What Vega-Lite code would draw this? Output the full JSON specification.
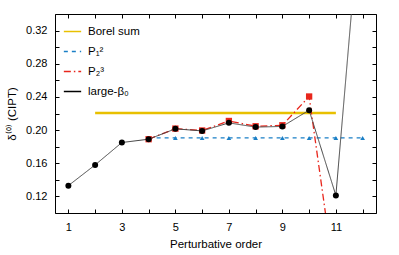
{
  "$schema": "https://vega.github.io/schema/vega-lite/v6.json",
  "width": 321,
  "height": 199,
  "autosize": {"type": "none"},
  "padding": {"left": 55, "top": 14, "right": 23, "bottom": 42},
  "config": {
    "view": {"stroke": "#000000", "strokeWidth": 1},
    "font": "Liberation Sans",
    "axis": {
      "grid": false,
      "domain": false,
      "domainColor": "#000000",
      "tickColor": "#000000",
      "labelColor": "#000000",
      "titleColor": "#000000",
      "labelFont": "Liberation Sans",
      "titleFont": "Liberation Sans",
      "labelFontSize": 11,
      "titleFontSize": 11.5,
      "titleFontWeight": "normal",
      "tickSize": 4,
      "offset": -4
    },
    "legend": {
      "labelFont": "Liberation Sans",
      "labelFontSize": 11.5,
      "labelColor": "#000000"
    }
  },
  "data": {
    "values": [
      {"series": "Borel sum", "x": 2, "y": 0.2205},
      {"series": "Borel sum", "x": 11, "y": 0.2205},
      {"series": "P₁²", "x": 4, "y": 0.1905},
      {"series": "P₁²", "x": 5, "y": 0.1905},
      {"series": "P₁²", "x": 6, "y": 0.1905},
      {"series": "P₁²", "x": 7, "y": 0.1905},
      {"series": "P₁²", "x": 8, "y": 0.1905},
      {"series": "P₁²", "x": 9, "y": 0.1905},
      {"series": "P₁²", "x": 10, "y": 0.1905},
      {"series": "P₁²", "x": 11, "y": 0.1905},
      {"series": "P₁²", "x": 12, "y": 0.1905},
      {"series": "P₂³", "x": 4, "y": 0.189},
      {"series": "P₂³", "x": 5, "y": 0.2018},
      {"series": "P₂³", "x": 6, "y": 0.1995},
      {"series": "P₂³", "x": 7, "y": 0.211},
      {"series": "P₂³", "x": 8, "y": 0.2046},
      {"series": "P₂³", "x": 9, "y": 0.2058},
      {"series": "P₂³", "x": 10, "y": 0.2405},
      {"series": "P₂³", "x": 11, "y": 0.01},
      {"series": "large-β₀", "x": 1, "y": 0.133},
      {"series": "large-β₀", "x": 2, "y": 0.158},
      {"series": "large-β₀", "x": 3, "y": 0.185},
      {"series": "large-β₀", "x": 4, "y": 0.189},
      {"series": "large-β₀", "x": 5, "y": 0.2015},
      {"series": "large-β₀", "x": 6, "y": 0.199},
      {"series": "large-β₀", "x": 7, "y": 0.2087},
      {"series": "large-β₀", "x": 8, "y": 0.2036},
      {"series": "large-β₀", "x": 9, "y": 0.2044},
      {"series": "large-β₀", "x": 10, "y": 0.224},
      {"series": "large-β₀", "x": 11, "y": 0.1212},
      {"series": "large-β₀", "x": 12, "y": 0.5}
    ]
  },
  "resolve": {"axis": {"x": "independent", "y": "independent"}},
  "layer": [
    {
      "mark": {"type": "point", "opacity": 0},
      "encoding": {
        "x": {
          "field": "x", "type": "quantitative",
          "scale": {"domain": [0.5, 12.5], "nice": false, "zero": false},
          "axis": {"orient": "top", "title": null, "labels": false, "values": [1,2,3,4,5,6,7,8,9,10,11,12]}
        },
        "y": {
          "field": "y", "type": "quantitative",
          "scale": {"domain": [0.10, 0.34], "nice": false, "zero": false},
          "axis": {"orient": "right", "title": null, "labels": false, "values": [0.1,0.12,0.14,0.16,0.18,0.2,0.22,0.24,0.26,0.28,0.3,0.32,0.34]}
        }
      }
    },
    {
      "encoding": {
        "x": {
          "field": "x", "type": "quantitative",
          "scale": {"domain": [0.5, 12.5], "nice": false, "zero": false},
          "axis": {
            "orient": "bottom",
            "title": "Perturbative order",
            "values": [1,2,3,4,5,6,7,8,9,10,11,12],
            "labelExpr": "datum.value % 2 == 1 ? datum.label : ''",
            "labelPadding": 8,
            "titlePadding": 6
          }
        },
        "y": {
          "field": "y", "type": "quantitative",
          "scale": {"domain": [0.10, 0.34], "nice": false, "zero": false},
          "axis": {
            "orient": "left",
            "title": "δ⁽⁰⁾ (CIPT)",
            "values": [0.1,0.12,0.14,0.16,0.18,0.2,0.22,0.24,0.26,0.28,0.3,0.32,0.34],
            "labelExpr": "round(datum.value*100) % 4 == 0 ? format(datum.value, '.2f') : ''",
            "labelPadding": 8,
            "titlePadding": 8
          }
        },
        "color": {
          "field": "series", "type": "nominal",
          "scale": {
            "domain": ["Borel sum", "P₁²", "P₂³", "large-β₀"],
            "range": ["#e8c000", "#1a7fc6", "#e8261c", "#000000"]
          },
          "legend": {
            "title": null,
            "orient": "top-left",
            "offset": 8,
            "symbolType": "stroke",
            "symbolSize": 300,
            "symbolStrokeWidth": 1.5,
            "rowPadding": 5,
            "labelOffset": 6
          }
        }
      },
      "layer": [
        {
          "transform": [{"filter": "datum.series == 'Borel sum'"}],
          "mark": {"type": "line", "strokeWidth": 2.5, "clip": true},
          "encoding": {
            "strokeDash": {
              "field": "series", "type": "nominal",
              "scale": {"domain": ["Borel sum", "P₁²", "P₂³", "large-β₀"], "range": [[1, 0], [4, 4], [7, 3, 1.5, 3], [1, 0]]},
              "legend": {"title": null, "orient": "top-left", "offset": 8, "symbolType": "stroke", "symbolSize": 300, "symbolStrokeWidth": 1.5, "rowPadding": 5, "labelOffset": 6}
            }
          }
        },
        {
          "transform": [{"filter": "datum.series == 'P₁²'"}],
          "mark": {"type": "line", "strokeWidth": 1.3, "clip": true},
          "encoding": {"strokeDash": {"field": "series", "type": "nominal"}}
        },
        {
          "transform": [{"filter": "datum.series == 'P₁²' && datum.x > 4"}],
          "mark": {"type": "point", "shape": "triangle-up", "filled": true, "opacity": 1, "size": 22, "clip": true}
        },
        {
          "transform": [{"filter": "datum.series == 'P₂³'"}],
          "mark": {"type": "line", "strokeWidth": 1.3, "clip": true},
          "encoding": {"strokeDash": {"field": "series", "type": "nominal"}}
        },
        {
          "transform": [{"filter": "datum.series == 'P₂³'"}],
          "mark": {"type": "point", "shape": "square", "filled": true, "opacity": 1, "size": 40, "clip": true}
        },
        {
          "transform": [{"filter": "datum.series == 'large-β₀'"}],
          "mark": {"type": "line", "strokeWidth": 1, "clip": true},
          "encoding": {
            "color": {"value": "#444444"},
            "strokeDash": {"field": "series", "type": "nominal"}
          }
        },
        {
          "transform": [{"filter": "datum.series == 'large-β₀'"}],
          "mark": {"type": "point", "shape": "circle", "filled": true, "opacity": 1, "size": 36, "clip": true}
        }
      ]
    }
  ]
}
